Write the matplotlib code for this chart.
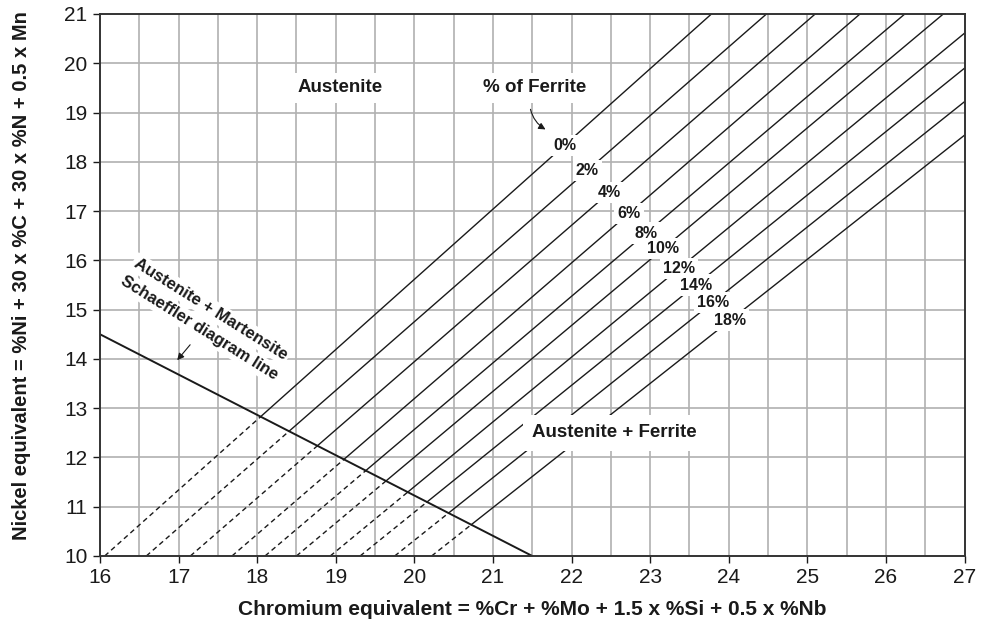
import matplotlib
matplotlib.use("Agg")
import matplotlib.pyplot as plt
import numpy as np

plt.rcParams['font.family'] = ['Liberation Sans', 'DejaVu Sans']

# ---- data ----
ferrite_labels = ["0%", "2%", "4%", "6%", "8%", "10%", "12%", "14%", "16%", "18%"]
# Cr eq where each iso-ferrite line meets Ni eq = 10
ferrite_x_start = [16.06, 16.59, 17.15, 17.68, 18.10, 18.50, 18.93, 19.31, 19.75, 20.22]
# far end of each line (top or right border)
ferrite_x_end = [23.78, 24.48, 25.10, 25.67, 26.24, 26.73, 27.0, 27.0, 27.0, 27.0]
ferrite_y_end = [21.0, 21.0, 21.0, 21.0, 21.0, 21.0, 20.61, 19.90, 19.22, 18.54]
# label positions (Cr eq) along each line
ferrite_label_x = [21.91, 22.20, 22.48, 22.73, 22.95, 23.17, 23.37, 23.58, 23.80, 24.02]

# Schaeffler martensite boundary line
schaeffler_x = [16.0, 21.5]
schaeffler_y = [14.5, 10.0]

x_ticks = list(range(16, 28))
y_ticks = list(range(10, 22))

fig = plt.figure(figsize=(9.81, 6.30), dpi=100)
ax = fig.add_axes([0.1019, 0.1175, 0.9832 - 0.1019, 0.9778 - 0.1175])
ax.set_xlim(16, 27)
ax.set_ylim(10, 21)

# grid
for xv in np.arange(16.5, 27, 0.5):
    ax.axvline(xv, color='#b0b0b0', lw=1.2, zorder=1)
for yv in range(11, 21):
    ax.axhline(yv, color='#b0b0b0', lw=1.2, zorder=1)

# Schaeffler line
ax.plot(schaeffler_x, schaeffler_y, color='#1a1a1a', lw=1.4, zorder=3)
m = (schaeffler_y[1] - schaeffler_y[0]) / (schaeffler_x[1] - schaeffler_x[0])

for i, (lab, x0, xe, ye, lx) in enumerate(zip(ferrite_labels, ferrite_x_start,
                                              ferrite_x_end, ferrite_y_end,
                                              ferrite_label_x)):
    s = (ye - 10.0) / (xe - x0)
    xi = (schaeffler_y[0] - 10.0 - m * schaeffler_x[0] + s * x0) / (s - m)
    yi = 10.0 + s * (xi - x0)
    ax.plot([x0, xi], [10.0, yi], color='#1a1a1a', lw=1.0,
            linestyle=(0, (3.6, 2.6)), zorder=3)
    ax.plot([xi, xe], [yi, ye], color='#1a1a1a', lw=1.0, zorder=3)
    ly = 10.0 + s * (lx - x0)
    ax.text(lx, ly, lab, ha='center', va='center', fontsize=11.5,
            fontweight='bold', color='#1a1a1a', zorder=5 + i * 0.01,
            bbox=dict(boxstyle='square,pad=0.2', fc='white', ec='none'))

tb = dict(boxstyle='square,pad=0.35', fc='white', ec='none')
ax.text(19.05, 19.5, "Austenite", ha='center', va='center', fontsize=13.5,
        fontweight='bold', color='#1a1a1a', zorder=5, bbox=tb)
ax.text(21.53, 19.5, "% of Ferrite", ha='center', va='center', fontsize=13.5,
        fontweight='bold', color='#1a1a1a', zorder=5, bbox=tb)
ax.annotate("", xy=(21.70, 18.63), xytext=(21.47, 19.12),
            arrowprops=dict(arrowstyle='-|>', color='#1a1a1a', lw=0.8,
                            mutation_scale=10, connectionstyle='arc3,rad=0.25'),
            zorder=6)
ax.text(22.55, 12.5, "Austenite + Ferrite", ha='center', va='center',
        fontsize=13.5, fontweight='bold', color='#1a1a1a', zorder=5,
        bbox=dict(boxstyle='square,pad=0.5', fc='white', ec='none'))
ax.text(17.41, 15.01, "Austenite + Martensite", ha='center', va='center',
        fontsize=12, fontweight='bold', color='#1a1a1a', rotation=-32,
        rotation_mode='anchor', zorder=5,
        bbox=dict(boxstyle='square,pad=0.15', fc='white', ec='none'))
ax.text(17.27, 14.62, "Schaeffler diagram line", ha='center', va='center',
        fontsize=12, fontweight='bold', color='#1a1a1a', rotation=-32,
        rotation_mode='anchor', zorder=5,
        bbox=dict(boxstyle='square,pad=0.15', fc='white', ec='none'))
ax.annotate("", xy=(16.96, 13.93), xytext=(17.17, 14.33),
            arrowprops=dict(arrowstyle='-|>', color='#1a1a1a', lw=0.8,
                            mutation_scale=10), zorder=6)

ax.set_xticks(x_ticks)
ax.set_yticks(y_ticks)
ax.tick_params(axis='both', direction='out', length=5, width=1.0,
               labelsize=15, colors='#1a1a1a', pad=4)
for sp in ax.spines.values():
    sp.set_color('#333333')
    sp.set_linewidth(1.4)
    sp.set_zorder(7)

ax.set_xlabel("Chromium equivalent = %Cr + %Mo + 1.5 x %Si + 0.5 x %Nb",
              fontsize=15, fontweight='bold', color='#1a1a1a', labelpad=9)
ax.set_ylabel("Nickel equivalent = %Ni + 30 x %C + 30 x %N + 0.5 x Mn",
              fontsize=14.5, fontweight='bold', color='#1a1a1a')
ax.yaxis.set_label_coords(-0.08, 0.518)

fig.savefig("out.png", dpi=100)
